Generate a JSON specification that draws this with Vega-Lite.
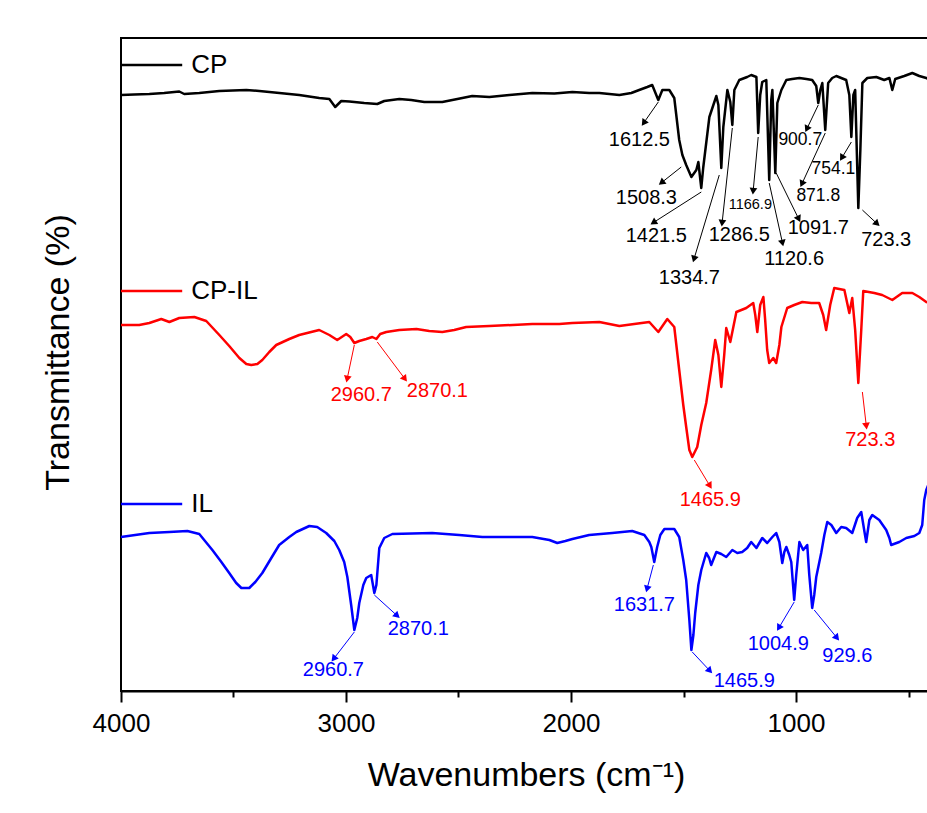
{
  "$schema": "https://vega.github.io/schema/vega-lite/v6.json",
  "width": 810,
  "height": 653,
  "autosize": {"type": "none"},
  "padding": {"left": 121, "top": 38, "right": 0, "bottom": 122},
  "background": "white",
  "title": {"text": "Transmittance (%)", "orient": "left", "anchor": "middle", "frame": "group", "offset": 16, "dx": 12,
            "fontSize": 34, "font": "Liberation Sans", "fontWeight": "normal", "color": "#000000"},
  "datasets": {
    "spectra": [
      {"series":"CP","wn":4000,"t":59.6},{"series":"CP","wn":3941,"t":59.65},{"series":"CP","wn":3874,"t":59.7},{"series":"CP","wn":3808,"t":59.8},{"series":"CP","wn":3741,"t":59.95},{"series":"CP","wn":3719,"t":59.7},{"series":"CP","wn":3652,"t":59.8},{"series":"CP","wn":3563,"t":60.0},{"series":"CP","wn":3443,"t":60.1},{"series":"CP","wn":3385,"t":60.0},{"series":"CP","wn":3296,"t":59.8},{"series":"CP","wn":3208,"t":59.6},{"series":"CP","wn":3119,"t":59.3},{"series":"CP","wn":3074,"t":59.2},{"series":"CP","wn":3048,"t":58.4},{"series":"CP","wn":3021,"t":59.0},{"series":"CP","wn":2985,"t":58.95},{"series":"CP","wn":2919,"t":58.8},{"series":"CP","wn":2861,"t":58.7},{"series":"CP","wn":2830,"t":59.0},{"series":"CP","wn":2763,"t":59.2},{"series":"CP","wn":2710,"t":59.1},{"series":"CP","wn":2652,"t":58.9},{"series":"CP","wn":2572,"t":58.9},{"series":"CP","wn":2505,"t":59.2},{"series":"CP","wn":2439,"t":59.5},{"series":"CP","wn":2363,"t":59.4},{"series":"CP","wn":2274,"t":59.6},{"series":"CP","wn":2172,"t":59.8},{"series":"CP","wn":2074,"t":59.75},{"series":"CP","wn":1994,"t":59.9},{"series":"CP","wn":1919,"t":59.8},{"series":"CP","wn":1874,"t":59.8},{"series":"CP","wn":1785,"t":59.6},{"series":"CP","wn":1732,"t":59.8},{"series":"CP","wn":1697,"t":60.1},{"series":"CP","wn":1661,"t":60.4},{"series":"CP","wn":1639,"t":60.6},{"series":"CP","wn":1612,"t":59.1},{"series":"CP","wn":1594,"t":60.1},{"series":"CP","wn":1563,"t":60.1},{"series":"CP","wn":1541,"t":59.3},{"series":"CP","wn":1519,"t":55.1},{"series":"CP","wn":1505,"t":53.6},{"series":"CP","wn":1488,"t":52.6},{"series":"CP","wn":1465,"t":51.4},{"series":"CP","wn":1443,"t":52.1},{"series":"CP","wn":1434,"t":52.9},{"series":"CP","wn":1421,"t":50.3},{"series":"CP","wn":1412,"t":52.4},{"series":"CP","wn":1385,"t":57.4},{"series":"CP","wn":1354,"t":59.5},{"series":"CP","wn":1345,"t":58.6},{"series":"CP","wn":1332,"t":52.3},{"series":"CP","wn":1323,"t":56.4},{"series":"CP","wn":1305,"t":60.1},{"series":"CP","wn":1292,"t":58.9},{"series":"CP","wn":1283,"t":56.6},{"series":"CP","wn":1274,"t":60.1},{"series":"CP","wn":1252,"t":61.1},{"series":"CP","wn":1217,"t":61.4},{"series":"CP","wn":1199,"t":61.6},{"series":"CP","wn":1176,"t":61.4},{"series":"CP","wn":1168,"t":55.8},{"series":"CP","wn":1159,"t":59.6},{"series":"CP","wn":1150,"t":60.9},{"series":"CP","wn":1132,"t":61.1},{"series":"CP","wn":1119,"t":51.1},{"series":"CP","wn":1110,"t":59.1},{"series":"CP","wn":1105,"t":60.1},{"series":"CP","wn":1092,"t":51.8},{"series":"CP","wn":1083,"t":58.8},{"series":"CP","wn":1065,"t":60.1},{"series":"CP","wn":1043,"t":61.1},{"series":"CP","wn":1017,"t":61.2},{"series":"CP","wn":985,"t":61.3},{"series":"CP","wn":954,"t":61.2},{"series":"CP","wn":928,"t":61.1},{"series":"CP","wn":910,"t":60.5},{"series":"CP","wn":901,"t":58.8},{"series":"CP","wn":892,"t":60.1},{"series":"CP","wn":883,"t":60.8},{"series":"CP","wn":870,"t":56.1},{"series":"CP","wn":857,"t":60.8},{"series":"CP","wn":839,"t":61.3},{"series":"CP","wn":821,"t":61.5},{"series":"CP","wn":799,"t":61.3},{"series":"CP","wn":777,"t":61.1},{"series":"CP","wn":763,"t":59.6},{"series":"CP","wn":754,"t":55.4},{"series":"CP","wn":745,"t":59.6},{"series":"CP","wn":737,"t":60.1},{"series":"CP","wn":723,"t":48.3},{"series":"CP","wn":714,"t":54.1},{"series":"CP","wn":705,"t":60.8},{"series":"CP","wn":683,"t":61.3},{"series":"CP","wn":643,"t":61.4},{"series":"CP","wn":608,"t":61.1},{"series":"CP","wn":585,"t":61.3},{"series":"CP","wn":572,"t":60.1},{"series":"CP","wn":559,"t":61.2},{"series":"CP","wn":519,"t":61.5},{"series":"CP","wn":483,"t":61.8},{"series":"CP","wn":452,"t":61.5},{"series":"CP","wn":421,"t":61.3},{"series":"CP","wn":400,"t":61.1},
      {"series":"CP-IL","wn":4000,"t":36.6},{"series":"CP-IL","wn":3919,"t":36.6},{"series":"CP-IL","wn":3874,"t":36.8},{"series":"CP-IL","wn":3821,"t":37.2},{"series":"CP-IL","wn":3785,"t":36.9},{"series":"CP-IL","wn":3741,"t":37.3},{"series":"CP-IL","wn":3674,"t":37.4},{"series":"CP-IL","wn":3621,"t":37.0},{"series":"CP-IL","wn":3563,"t":35.6},{"series":"CP-IL","wn":3519,"t":34.5},{"series":"CP-IL","wn":3474,"t":33.3},{"series":"CP-IL","wn":3443,"t":32.7},{"series":"CP-IL","wn":3421,"t":32.6},{"series":"CP-IL","wn":3394,"t":32.7},{"series":"CP-IL","wn":3372,"t":33.1},{"series":"CP-IL","wn":3341,"t":33.9},{"series":"CP-IL","wn":3310,"t":34.6},{"series":"CP-IL","wn":3252,"t":35.2},{"series":"CP-IL","wn":3208,"t":35.6},{"series":"CP-IL","wn":3119,"t":36.1},{"series":"CP-IL","wn":3074,"t":35.6},{"series":"CP-IL","wn":3039,"t":35.1},{"series":"CP-IL","wn":2999,"t":35.7},{"series":"CP-IL","wn":2981,"t":35.4},{"series":"CP-IL","wn":2963,"t":34.8},{"series":"CP-IL","wn":2941,"t":35.0},{"series":"CP-IL","wn":2910,"t":35.2},{"series":"CP-IL","wn":2883,"t":35.4},{"series":"CP-IL","wn":2865,"t":35.2},{"series":"CP-IL","wn":2848,"t":35.7},{"series":"CP-IL","wn":2821,"t":35.9},{"series":"CP-IL","wn":2763,"t":36.1},{"series":"CP-IL","wn":2687,"t":36.2},{"series":"CP-IL","wn":2630,"t":36.0},{"series":"CP-IL","wn":2572,"t":35.9},{"series":"CP-IL","wn":2519,"t":36.1},{"series":"CP-IL","wn":2466,"t":36.4},{"series":"CP-IL","wn":2363,"t":36.5},{"series":"CP-IL","wn":2172,"t":36.7},{"series":"CP-IL","wn":2052,"t":36.7},{"series":"CP-IL","wn":1994,"t":36.8},{"series":"CP-IL","wn":1874,"t":36.9},{"series":"CP-IL","wn":1785,"t":36.5},{"series":"CP-IL","wn":1719,"t":36.7},{"series":"CP-IL","wn":1652,"t":36.9},{"series":"CP-IL","wn":1612,"t":35.9},{"series":"CP-IL","wn":1572,"t":37.2},{"series":"CP-IL","wn":1541,"t":36.4},{"series":"CP-IL","wn":1519,"t":32.1},{"series":"CP-IL","wn":1501,"t":28.6},{"series":"CP-IL","wn":1488,"t":26.4},{"series":"CP-IL","wn":1474,"t":24.1},{"series":"CP-IL","wn":1461,"t":23.4},{"series":"CP-IL","wn":1439,"t":24.4},{"series":"CP-IL","wn":1421,"t":26.6},{"series":"CP-IL","wn":1399,"t":28.8},{"series":"CP-IL","wn":1377,"t":32.1},{"series":"CP-IL","wn":1359,"t":35.1},{"series":"CP-IL","wn":1345,"t":33.6},{"series":"CP-IL","wn":1332,"t":30.4},{"series":"CP-IL","wn":1319,"t":33.6},{"series":"CP-IL","wn":1310,"t":36.3},{"series":"CP-IL","wn":1292,"t":34.9},{"series":"CP-IL","wn":1265,"t":37.9},{"series":"CP-IL","wn":1221,"t":38.3},{"series":"CP-IL","wn":1190,"t":38.8},{"series":"CP-IL","wn":1181,"t":37.6},{"series":"CP-IL","wn":1172,"t":35.9},{"series":"CP-IL","wn":1159,"t":38.6},{"series":"CP-IL","wn":1145,"t":39.4},{"series":"CP-IL","wn":1137,"t":37.1},{"series":"CP-IL","wn":1128,"t":34.1},{"series":"CP-IL","wn":1119,"t":32.8},{"series":"CP-IL","wn":1101,"t":33.3},{"series":"CP-IL","wn":1088,"t":32.8},{"series":"CP-IL","wn":1074,"t":34.6},{"series":"CP-IL","wn":1065,"t":36.4},{"series":"CP-IL","wn":1039,"t":38.3},{"series":"CP-IL","wn":1008,"t":38.6},{"series":"CP-IL","wn":972,"t":38.9},{"series":"CP-IL","wn":932,"t":38.8},{"series":"CP-IL","wn":897,"t":38.8},{"series":"CP-IL","wn":879,"t":37.6},{"series":"CP-IL","wn":866,"t":36.1},{"series":"CP-IL","wn":848,"t":38.6},{"series":"CP-IL","wn":830,"t":40.3},{"series":"CP-IL","wn":785,"t":40.1},{"series":"CP-IL","wn":763,"t":37.8},{"series":"CP-IL","wn":750,"t":39.3},{"series":"CP-IL","wn":737,"t":36.1},{"series":"CP-IL","wn":723,"t":30.8},{"series":"CP-IL","wn":710,"t":36.1},{"series":"CP-IL","wn":701,"t":40.0},{"series":"CP-IL","wn":652,"t":39.8},{"series":"CP-IL","wn":617,"t":39.6},{"series":"CP-IL","wn":572,"t":39.1},{"series":"CP-IL","wn":528,"t":39.8},{"series":"CP-IL","wn":483,"t":39.8},{"series":"CP-IL","wn":452,"t":39.4},{"series":"CP-IL","wn":421,"t":38.9},{"series":"CP-IL","wn":400,"t":38.8},
      {"series":"IL","wn":4000,"t":15.4},{"series":"IL","wn":3874,"t":15.8},{"series":"IL","wn":3785,"t":15.9},{"series":"IL","wn":3705,"t":16.0},{"series":"IL","wn":3652,"t":15.7},{"series":"IL","wn":3594,"t":14.1},{"series":"IL","wn":3554,"t":12.9},{"series":"IL","wn":3519,"t":11.8},{"series":"IL","wn":3488,"t":10.8},{"series":"IL","wn":3465,"t":10.3},{"series":"IL","wn":3430,"t":10.3},{"series":"IL","wn":3403,"t":10.9},{"series":"IL","wn":3372,"t":11.8},{"series":"IL","wn":3332,"t":13.3},{"series":"IL","wn":3297,"t":14.6},{"series":"IL","wn":3252,"t":15.4},{"series":"IL","wn":3221,"t":15.9},{"series":"IL","wn":3163,"t":16.5},{"series":"IL","wn":3128,"t":16.4},{"series":"IL","wn":3088,"t":15.8},{"series":"IL","wn":3052,"t":15.0},{"series":"IL","wn":3030,"t":14.1},{"series":"IL","wn":3008,"t":12.9},{"series":"IL","wn":2994,"t":11.4},{"series":"IL","wn":2977,"t":8.6},{"series":"IL","wn":2963,"t":6.1},{"series":"IL","wn":2950,"t":7.3},{"series":"IL","wn":2941,"t":8.8},{"series":"IL","wn":2923,"t":10.6},{"series":"IL","wn":2910,"t":11.3},{"series":"IL","wn":2888,"t":11.6},{"series":"IL","wn":2874,"t":9.8},{"series":"IL","wn":2865,"t":10.6},{"series":"IL","wn":2852,"t":14.3},{"series":"IL","wn":2830,"t":15.3},{"series":"IL","wn":2794,"t":15.7},{"series":"IL","wn":2617,"t":15.8},{"series":"IL","wn":2497,"t":15.6},{"series":"IL","wn":2394,"t":15.4},{"series":"IL","wn":2274,"t":15.4},{"series":"IL","wn":2172,"t":15.4},{"series":"IL","wn":2096,"t":15.1},{"series":"IL","wn":2061,"t":14.8},{"series":"IL","wn":2025,"t":15.0},{"series":"IL","wn":1994,"t":15.2},{"series":"IL","wn":1919,"t":15.6},{"series":"IL","wn":1817,"t":15.8},{"series":"IL","wn":1728,"t":16.0},{"series":"IL","wn":1674,"t":15.6},{"series":"IL","wn":1652,"t":14.9},{"series":"IL","wn":1643,"t":14.4},{"series":"IL","wn":1630,"t":12.9},{"series":"IL","wn":1617,"t":14.4},{"series":"IL","wn":1603,"t":15.6},{"series":"IL","wn":1585,"t":16.2},{"series":"IL","wn":1541,"t":16.2},{"series":"IL","wn":1519,"t":15.4},{"series":"IL","wn":1501,"t":13.1},{"series":"IL","wn":1488,"t":11.1},{"series":"IL","wn":1474,"t":7.1},{"series":"IL","wn":1465,"t":4.1},{"series":"IL","wn":1456,"t":5.6},{"series":"IL","wn":1448,"t":7.8},{"series":"IL","wn":1434,"t":10.6},{"series":"IL","wn":1421,"t":12.1},{"series":"IL","wn":1399,"t":13.8},{"series":"IL","wn":1386,"t":13.3},{"series":"IL","wn":1377,"t":12.6},{"series":"IL","wn":1354,"t":13.9},{"series":"IL","wn":1332,"t":13.7},{"series":"IL","wn":1310,"t":13.4},{"series":"IL","wn":1283,"t":14.1},{"series":"IL","wn":1261,"t":13.8},{"series":"IL","wn":1239,"t":13.9},{"series":"IL","wn":1217,"t":14.3},{"series":"IL","wn":1199,"t":14.9},{"series":"IL","wn":1176,"t":14.3},{"series":"IL","wn":1150,"t":15.3},{"series":"IL","wn":1128,"t":14.8},{"series":"IL","wn":1105,"t":15.4},{"series":"IL","wn":1088,"t":15.8},{"series":"IL","wn":1074,"t":14.9},{"series":"IL","wn":1061,"t":12.8},{"series":"IL","wn":1052,"t":13.9},{"series":"IL","wn":1043,"t":14.4},{"series":"IL","wn":1030,"t":13.6},{"series":"IL","wn":1021,"t":12.9},{"series":"IL","wn":1008,"t":9.1},{"series":"IL","wn":999,"t":11.6},{"series":"IL","wn":985,"t":14.9},{"series":"IL","wn":968,"t":14.1},{"series":"IL","wn":950,"t":14.6},{"series":"IL","wn":941,"t":11.6},{"series":"IL","wn":928,"t":8.3},{"series":"IL","wn":919,"t":9.6},{"series":"IL","wn":910,"t":11.4},{"series":"IL","wn":888,"t":13.8},{"series":"IL","wn":874,"t":15.6},{"series":"IL","wn":861,"t":16.9},{"series":"IL","wn":843,"t":16.6},{"series":"IL","wn":821,"t":15.8},{"series":"IL","wn":799,"t":16.4},{"series":"IL","wn":777,"t":16.3},{"series":"IL","wn":750,"t":15.8},{"series":"IL","wn":728,"t":17.3},{"series":"IL","wn":710,"t":17.9},{"series":"IL","wn":697,"t":16.1},{"series":"IL","wn":688,"t":14.9},{"series":"IL","wn":674,"t":17.1},{"series":"IL","wn":661,"t":17.6},{"series":"IL","wn":630,"t":17.1},{"series":"IL","wn":599,"t":16.1},{"series":"IL","wn":585,"t":15.3},{"series":"IL","wn":577,"t":14.6},{"series":"IL","wn":541,"t":14.9},{"series":"IL","wn":510,"t":15.3},{"series":"IL","wn":474,"t":15.5},{"series":"IL","wn":452,"t":15.8},{"series":"IL","wn":439,"t":16.6},{"series":"IL","wn":430,"t":19.1},{"series":"IL","wn":421,"t":20.1},{"series":"IL","wn":400,"t":21.3}
    ],
    "notes": [
      {"series":"CP","label":"1612.5","tx":1696,"ty":55.1,"ax":1612,"ay":58.9,"bx":1674,"by":56.9},
      {"series":"CP","label":"1508.3","tx":1665,"ty":49.3,"ax":1510,"ay":52.4,"bx":1594,"by":50.9},
      {"series":"CP","label":"1421.5","tx":1621,"ty":45.5,"ax":1421,"ay":49.9,"bx":1630,"by":46.9},
      {"series":"CP","label":"1334.7","tx":1474,"ty":41.3,"ax":1341,"ay":51.6,"bx":1452,"by":43.3},
      {"series":"CP","label":"1286.5","tx":1252,"ty":45.6,"ax":1283,"ay":56.3,"bx":1328,"by":46.9},
      {"series":"CP","label":"1166.9","tx":1203,"ty":48.6,"ax":1168,"ay":55.4,"bx":1190,"by":50.1},
      {"series":"CP","label":"1120.6","tx":1008,"ty":43.2,"ax":1119,"ay":50.8,"bx":1061,"by":44.9},
      {"series":"CP","label":"1091.7","tx":901,"ty":46.3,"ax":1088,"ay":51.8,"bx":990,"by":47.3},
      {"series":"CP","label":"900.7","tx":981,"ty":55.1,"ax":901,"ay":58.6,"bx":950,"by":56.3},
      {"series":"CP","label":"871.8","tx":901,"ty":49.5,"ax":870,"ay":55.8,"bx":972,"by":50.8},
      {"series":"CP","label":"754.1","tx":834,"ty":52.2,"ax":754,"ay":54.9,"bx":794,"by":53.4},
      {"series":"CP","label":"723.3","tx":599,"ty":45.1,"ax":705,"ay":48.1,"bx":643,"by":46.8},
      {"series":"CP-IL","label":"2960.7","tx":2932,"ty":29.6,"ax":2963,"ay":34.6,"bx":2994,"by":31.3},
      {"series":"CP-IL","label":"2870.1","tx":2594,"ty":30.0,"ax":2861,"ay":34.9,"bx":2741,"by":31.3},
      {"series":"CP-IL","label":"1465.9","tx":1381,"ty":19.1,"ax":1452,"ay":23.1,"bx":1385,"by":20.6},
      {"series":"CP-IL","label":"723.3","tx":670,"ty":25.1,"ax":705,"ay":29.9,"bx":688,"by":26.6},
      {"series":"IL","label":"2960.7","tx":3056,"ty":2.1,"ax":2963,"ay":5.9,"bx":3052,"by":3.3},
      {"series":"IL","label":"2870.1","tx":2679,"ty":6.2,"ax":2874,"ay":9.6,"bx":2776,"by":7.6},
      {"series":"IL","label":"1631.7","tx":1674,"ty":8.6,"ax":1634,"ay":12.6,"bx":1661,"by":10.3},
      {"series":"IL","label":"1465.9","tx":1230,"ty":1.0,"ax":1461,"ay":3.9,"bx":1386,"by":2.1},
      {"series":"IL","label":"1004.9","tx":1079,"ty":4.7,"ax":1008,"ay":8.9,"bx":1074,"by":6.4},
      {"series":"IL","label":"929.6","tx":772,"ty":3.5,"ax":919,"ay":8.1,"bx":821,"by":5.4}
    ],
    "keys": [
      {"series":"CP","x1":4000,"x2":3728,"y":62.6,"lx":3688},
      {"series":"CP-IL","x1":4000,"x2":3728,"y":40.0,"lx":3688},
      {"series":"IL","x1":4000,"x2":3728,"y":18.7,"lx":3688}
    ]
  },
  "resolve": {"axis": {"x": "independent"}},
  "layer": [
    {
      "data": {"name": "spectra"},
      "mark": {"type": "line", "strokeWidth": 2.5, "interpolate": "linear", "strokeJoin": "round"},
      "encoding": {
        "x": {"field": "wn", "type": "quantitative",
              "scale": {"domain": [400, 4000], "reverse": true, "nice": false, "zero": false},
              "axis": {"values": [4000, 3000, 2000, 1000], "format": "d", "tickSize": 11, "labelPadding": 8,
                       "labelFlush": false, "labelOverlap": false, "title": "Wavenumbers (cm⁻¹)", "titlePadding": 22, "orient": "bottom"}},
        "y": {"field": "t", "type": "quantitative",
              "scale": {"domain": [0, 65.3], "nice": false, "zero": false},
              "axis": {"orient": "left", "title": null, "ticks": false, "labels": false, "domain": true}},
        "color": {"field": "series", "type": "nominal",
                  "scale": {"domain": ["CP", "CP-IL", "IL"], "range": ["#000000", "#ff0000", "#0000ff"]},
                  "legend": null},
        "detail": {"field": "series"}
      }
    },
    {
      "data": {"name": "keys"},
      "mark": {"type": "rule", "strokeWidth": 2.5},
      "encoding": {
        "x": {"field": "x1", "type": "quantitative",
              "axis": {"values": [3500, 2500, 1500, 500], "tickSize": 6, "labels": false, "domain": false,
                       "title": null, "orient": "bottom", "grid": false}},
        "x2": {"field": "x2"},
        "y": {"field": "y", "type": "quantitative", "axis": null},
        "color": {"field": "series", "type": "nominal", "legend": null}
      }
    },
    {
      "data": {"name": "keys"},
      "mark": {"type": "text", "align": "left", "baseline": "middle", "fontSize": 26, "font": "Liberation Sans"},
      "encoding": {
        "x": {"field": "lx", "type": "quantitative", "axis": null},
        "y": {"field": "y", "type": "quantitative", "axis": null},
        "text": {"field": "series"},
        "color": {"value": "#000000"}
      }
    },
    {
      "data": {"name": "notes"},
      "mark": {"type": "rule", "strokeWidth": 1},
      "encoding": {
        "x": {"field": "ax", "type": "quantitative", "axis": null},
        "y": {"field": "ay", "type": "quantitative", "axis": null},
        "x2": {"field": "bx"},
        "y2": {"field": "by"},
        "color": {"field": "series", "type": "nominal", "legend": null}
      }
    },
    {
      "data": {"name": "notes"},
      "transform": [
        {"calculate": "atan2(-(datum.bx - datum.ax) * 0.225, (datum.by - datum.ay) * 10) * 180 / PI", "as": "angle"}
      ],
      "mark": {"type": "point", "shape": "triangle", "filled": true, "size": 60, "opacity": 1},
      "encoding": {
        "x": {"field": "bx", "type": "quantitative", "axis": null},
        "y": {"field": "by", "type": "quantitative", "axis": null},
        "angle": {"field": "angle", "type": "quantitative", "scale": null},
        "color": {"field": "series", "type": "nominal", "legend": null}
      }
    },
    {
      "data": {"name": "notes"},
      "transform": [{"filter": {"not": {"field": "label", "oneOf": ["1166.9", "900.7", "871.8", "754.1"]}}}],
      "mark": {"type": "text", "align": "center", "baseline": "middle", "fontSize": 20, "font": "Liberation Sans"},
      "encoding": {
        "x": {"field": "tx", "type": "quantitative", "axis": null},
        "y": {"field": "ty", "type": "quantitative", "axis": null},
        "text": {"field": "label"},
        "color": {"field": "series", "type": "nominal", "legend": null}
      }
    },
    {
      "data": {"name": "notes"},
      "transform": [{"filter": {"field": "label", "oneOf": ["900.7", "871.8", "754.1"]}}],
      "mark": {"type": "text", "align": "center", "baseline": "middle", "fontSize": 17.5, "font": "Liberation Sans"},
      "encoding": {
        "x": {"field": "tx", "type": "quantitative", "axis": null},
        "y": {"field": "ty", "type": "quantitative", "axis": null},
        "text": {"field": "label"},
        "color": {"field": "series", "type": "nominal", "legend": null}
      }
    },
    {
      "data": {"name": "notes"},
      "transform": [{"filter": {"field": "label", "equal": "1166.9"}}],
      "mark": {"type": "text", "align": "center", "baseline": "middle", "fontSize": 14.5, "font": "Liberation Sans"},
      "encoding": {
        "x": {"field": "tx", "type": "quantitative", "axis": null},
        "y": {"field": "ty", "type": "quantitative", "axis": null},
        "text": {"field": "label"},
        "color": {"field": "series", "type": "nominal", "legend": null}
      }
    }
  ],
  "config": {
    "view": {"stroke": "#000000", "strokeWidth": 2},
    "axis": {"grid": false, "domainColor": "#000000", "domainWidth": 2, "tickColor": "#000000", "tickWidth": 2,
             "labelFont": "Liberation Sans", "labelFontSize": 26, "labelColor": "#000000",
             "titleFont": "Liberation Sans", "titleFontSize": 34, "titleFontWeight": "normal", "titleColor": "#000000"},
    "text": {"font": "Liberation Sans"}
  }
}
